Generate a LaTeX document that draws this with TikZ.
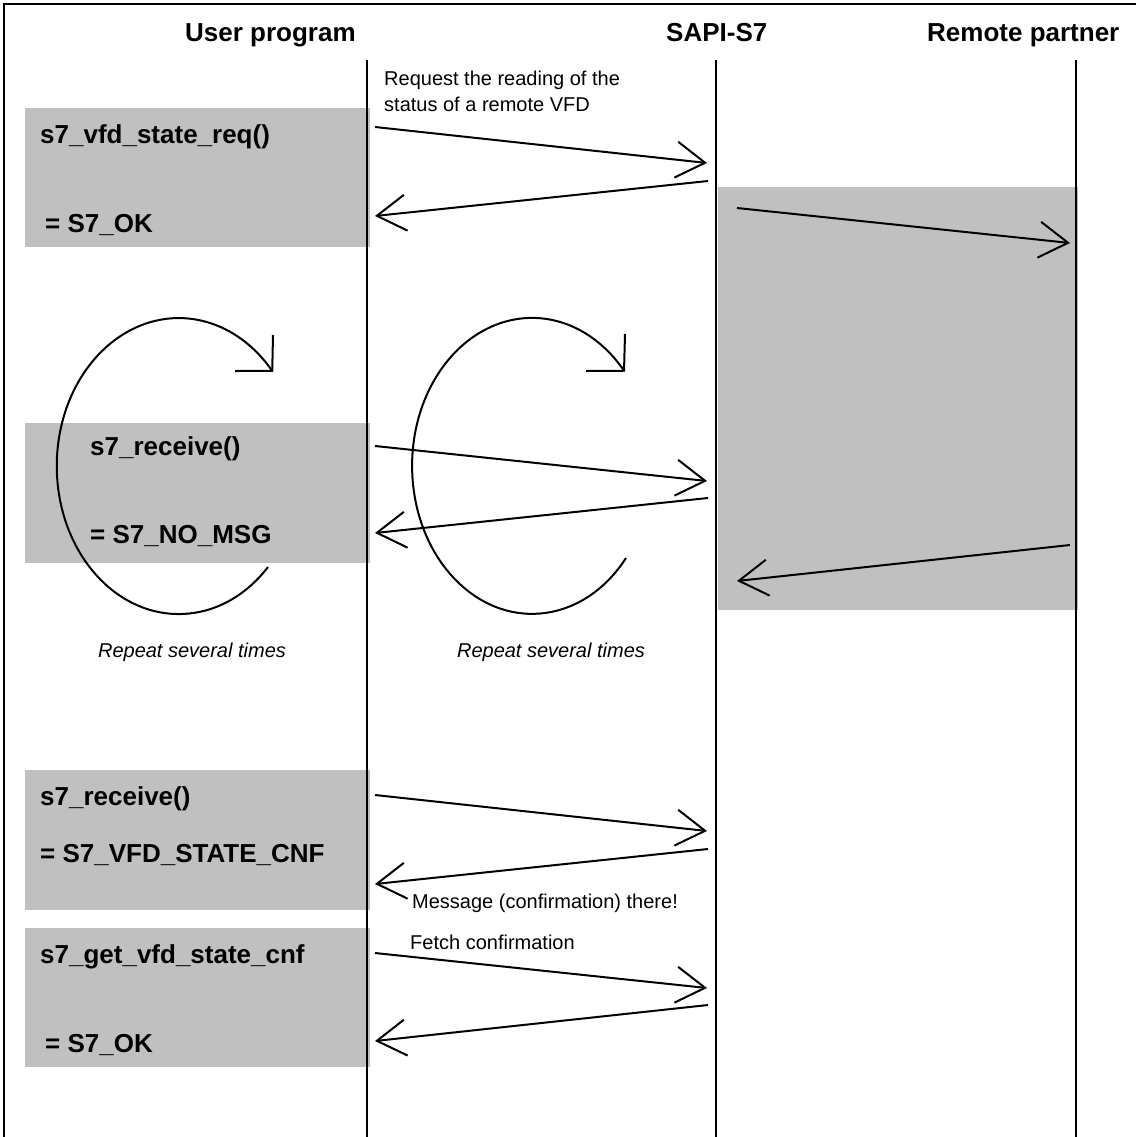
\documentclass[tikz,border=0pt]{standalone}
\usepackage{fontspec}
\setmainfont{Liberation Sans}
\usetikzlibrary{arrows.meta}
\definecolor{boxgray}{RGB}{192,192,192}
\tikzset{
  ln/.style={line width=1.5pt, line cap=butt},
  aln/.style={line width=2pt, line cap=butt},
  msg/.style={aln, -{Straight Barb[length=29pt,width=36pt,line width=2pt]}},
  graybox/.style={fill=boxgray, draw=none, anchor=north west, inner sep=0pt},
  hdr/.style={font=\fontsize{26pt}{31pt}\selectfont\bfseries, anchor=base west, inner sep=0pt},
  btxt/.style={font=\fontsize{26pt}{31pt}\selectfont\bfseries, anchor=base west, inner sep=0pt},
  small/.style={font=\fontsize{20pt}{26pt}\selectfont, anchor=base west, inner sep=0pt},
  rep/.style={font=\fontsize{20pt}{26pt}\selectfont\itshape, anchor=base, inner sep=0pt},
}
\begin{document}
\begin{tikzpicture}[x=1pt,y=-1pt]
\useasboundingbox (0,0) rectangle (1135,1137);
% frame
\draw[ln] (1136,4) -- (4,4) -- (4,1138);
% gray boxes
\node[graybox, minimum width=345pt, minimum height=139pt] (b1) at (25,108) {};
\node[graybox, minimum width=345pt, minimum height=140pt] (b2) at (25,423) {};
\node[graybox, minimum width=345pt, minimum height=140pt] (b3) at (25,770) {};
\node[graybox, minimum width=345pt, minimum height=139pt] (b4) at (25,928) {};
\node[graybox, minimum width=360pt, minimum height=423pt] (rb) at (718,187) {};
% headers
\node[hdr] (hu) at (185,42) {User program};
\node[hdr] (hs) at (666,42) {SAPI-S7};
\node[hdr] (hr) at (927,42) {Remote partner};
% lifelines
\coordinate (u0) at (367,60); \coordinate (u1) at (367,1138);
\coordinate (s0) at (716,60); \coordinate (s1) at (716,1138);
\coordinate (r0) at (1076,60); \coordinate (r1) at (1076,1138);
\draw[ln] (u0) -- (u1);
\draw[ln] (s0) -- (s1);
\draw[ln] (r0) -- (r1);
% box texts
\node[btxt] (t1a) at (40,143) {s7\_vfd\_state\_req()};
\node[btxt] (t1b) at (45,232) {= S7\_OK};
\node[btxt] (t2a) at (90,455) {s7\_receive()};
\node[btxt] (t2b) at (90,543) {= S7\_NO\_MSG};
\node[btxt] (t3a) at (40,805) {s7\_receive()};
\node[btxt] (t3b) at (40,862) {= S7\_VFD\_STATE\_CNF};
\node[btxt] (t4a) at (40,963) {s7\_get\_vfd\_state\_cnf};
\node[btxt] (t4b) at (45,1052) {= S7\_OK};
% small labels
\node[small] (l1) at (384,86) {Request the reading of the};
\node[small] (l2) at (384,112) {status of a remote VFD};
\node[small] (l3) at (412,908) {Message (confirmation) there!};
\node[small] (l4) at (410,949) {Fetch confirmation};
\node[rep] (rp1) at (192,657) {Repeat several times};
\node[rep] (rp2) at (551,657) {Repeat several times};
% message arrows
\coordinate (a1s) at (375,127);  \coordinate (a1e) at (707,163);
\coordinate (a2s) at (708,181);  \coordinate (a2e) at (375,216);
\coordinate (a3s) at (737,208);  \coordinate (a3e) at (1070,243);
\coordinate (a4s) at (1070,545); \coordinate (a4e) at (737,581);
\coordinate (a5s) at (375,446);  \coordinate (a5e) at (707,481);
\coordinate (a6s) at (708,498);  \coordinate (a6e) at (375,533);
\coordinate (a7s) at (375,795);  \coordinate (a7e) at (707,831);
\coordinate (a8s) at (708,849);  \coordinate (a8e) at (375,884);
\coordinate (a9s) at (375,953);  \coordinate (a9e) at (707,988);
\coordinate (a10s) at (708,1005); \coordinate (a10e) at (375,1041);
\foreach \i in {1,...,10} { \draw[msg] (a\i s) -- (a\i e); }
% loops
\coordinate (c1s) at (268,567);
\draw[aln] (c1s) arc[start angle=-43, end angle=-320, x radius=122pt, y radius=148pt] coordinate (c1e);
\draw[aln] (273,335) -- (c1e) -- (235,371);
\coordinate (c2s) at (626,558);
\draw[aln] (c2s) arc[start angle=-38.5, end angle=-320, x radius=120pt, y radius=148pt] coordinate (c2e);
\draw[aln] (625,334) -- (c2e) -- (586,371);
\end{tikzpicture}
\end{document}
